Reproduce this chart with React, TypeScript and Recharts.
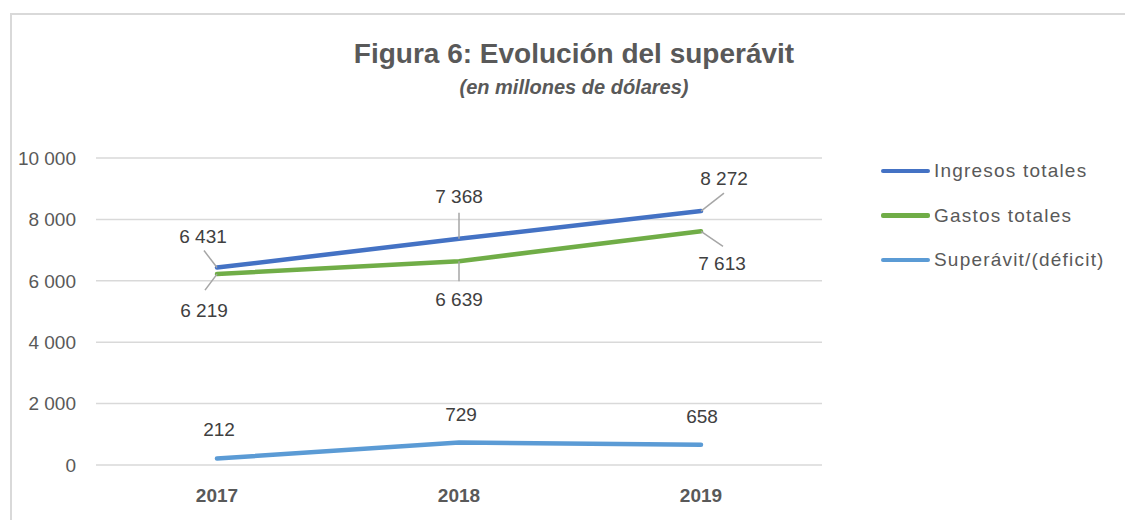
import React from "react";
import { LineChart, Line, XAxis, YAxis, CartesianGrid, LabelList } from "recharts";

const years = ["2017", "2018", "2019"];
const ingresos = [6431, 7368, 8272];
const gastos = [6219, 6639, 7613];
const superavit = [212, 729, 658];
const yTicks = [0, 2000, 4000, 6000, 8000, 10000];

const data = years.map((year, i) => ({
  year,
  ingresos: ingresos[i],
  gastos: gastos[i],
  superavit: superavit[i],
}));

// label placement per point: [dx, dy] of label centre, leader end [lx1, ly1, lx2, ly2] or null
type Place = { dx: number; dy: number; leader: number[] | null };
const ingresosPlace: Place[] = [
  { dx: -14, dy: -32, leader: [0, 0, -13, -17] },
  { dx: 0, dy: -43, leader: [0, 0, 0, -26] },
  { dx: 23, dy: -33, leader: [0, 0, 23, -18] },
];
const gastosPlace: Place[] = [
  { dx: -13, dy: 36, leader: [0, 0, -12, 16] },
  { dx: 0, dy: 38, leader: [0, 0, 0, 20] },
  { dx: 21, dy: 32, leader: [0, 0, 22, 15] },
];
const superavitPlace: Place[] = [
  { dx: 2, dy: -29, leader: null },
  { dx: 2, dy: -29, leader: null },
  { dx: 1, dy: -29, leader: null },
];

const fmt = (v: number) => String(v).replace(/\B(?=(\d{3})+(?!\d))/g, " ");

const FONT = "'Liberation Sans', Arial, sans-serif";

const makeLabel = (places: Place[]) => (props: any) => {
  const { x, y, value, index } = props;
  const p = places[index];
  return (
    <g>
      {p.leader && (
        <line
          x1={x + p.leader[0]}
          y1={y + p.leader[1]}
          x2={x + p.leader[2]}
          y2={y + p.leader[3]}
          stroke="#A6A6A6"
          strokeWidth={1.5}
        />
      )}
      <text
        x={x + p.dx}
        y={y + p.dy + 7}
        textAnchor="middle"
        fontSize={19}
        fontFamily={FONT}
        fill="#404040"
      >
        {fmt(value)}
      </text>
    </g>
  );
};

const legendItems = [
  { name: "Ingresos totales", color: "#4472C4" },
  { name: "Gastos totales", color: "#70AD47" },
  { name: "Superávit/(déficit)", color: "#5B9BD5" },
];

export default function App() {
  return (
    <div style={{ position: "relative", width: 1125, height: 520, overflow: "hidden", background: "#fff", fontFamily: FONT }}>
      <style>{"body{margin:0}"}</style>
      <div
        style={{
          position: "absolute",
          left: 10,
          top: 13,
          width: 1300,
          height: 700,
          border: "2px solid #D9D9D9",
          boxSizing: "border-box",
        }}
      />
      <div
        style={{
          position: "absolute",
          left: 174,
          width: 800,
          top: 39,
          textAlign: "center",
          fontSize: 28,
          lineHeight: "30px",
          fontWeight: "bold",
          color: "#595959",
        }}
      >
        Figura 6: Evolución del superávit
      </div>
      <div
        style={{
          position: "absolute",
          left: 174,
          width: 800,
          top: 76,
          textAlign: "center",
          fontSize: 20,
          lineHeight: "22px",
          fontWeight: "bold",
          fontStyle: "italic",
          color: "#595959",
        }}
      >
        (en millones de dólares)
      </div>
      <div style={{ position: "absolute", left: 0, top: 0 }}>
        <LineChart
          width={1125}
          height={520}
          data={data}
          margin={{ top: 158, right: 303, bottom: 25, left: 0 }}
        >
          <CartesianGrid vertical={false} stroke="#D9D9D9" strokeWidth={1.5} />
          <XAxis
            dataKey="year"
            height={30}
            axisLine={false}
            tickLine={false}
            padding={{ left: 121, right: 121 }}
            tickMargin={18}
            tick={{ fontSize: 19, fontWeight: "bold", fill: "#595959", fontFamily: FONT }}
          />
          <YAxis
            width={96}
            domain={[0, 10000]}
            ticks={yTicks}
            axisLine={false}
            tickLine={false}
            tickMargin={14}
            tickFormatter={fmt}
            tick={{ fontSize: 19, fill: "#595959", fontFamily: FONT }}
          />
          <Line
            dataKey="superavit"
            stroke="#5B9BD5"
            strokeWidth={4.5}
            strokeLinecap="round"
            dot={false}
            isAnimationActive={false}
          >
            <LabelList dataKey="superavit" content={makeLabel(superavitPlace)} />
          </Line>
          <Line
            dataKey="gastos"
            stroke="#70AD47"
            strokeWidth={4.5}
            strokeLinecap="round"
            dot={false}
            isAnimationActive={false}
          >
            <LabelList dataKey="gastos" content={makeLabel(gastosPlace)} />
          </Line>
          <Line
            dataKey="ingresos"
            stroke="#4472C4"
            strokeWidth={4.5}
            strokeLinecap="round"
            dot={false}
            isAnimationActive={false}
          >
            <LabelList dataKey="ingresos" content={makeLabel(ingresosPlace)} />
          </Line>
        </LineChart>
      </div>
      {legendItems.map((item, i) => (
        <div
          key={item.name}
          style={{
            position: "absolute",
            left: 881,
            top: 159 + i * 44.5,
            height: 24,
            display: "flex",
            alignItems: "center",
            fontSize: 19,
            letterSpacing: 1.2,
            color: "#595959",
            whiteSpace: "nowrap",
          }}
        >
          <span
            style={{
              display: "inline-block",
              width: 49,
              height: 4.5,
              borderRadius: 2,
              background: item.color,
              marginRight: 4,
            }}
          />
          {item.name}
        </div>
      ))}
    </div>
  );
}
